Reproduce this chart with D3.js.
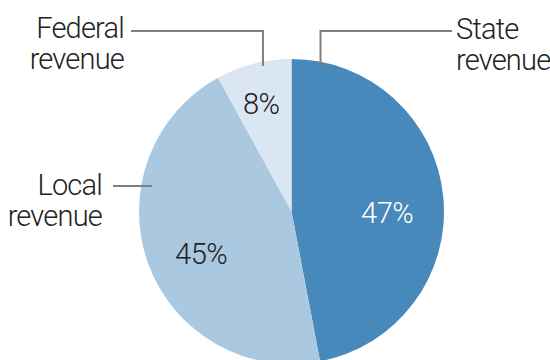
<!DOCTYPE html>
<html>
<head>
<meta charset="utf-8">
<script src="https://cdn.jsdelivr.net/npm/d3@7"></script>
<style>
  html, body { margin: 0; padding: 0; background: #fff; }
  svg { display: block; }
  text { font-family: Roboto, "Liberation Sans", sans-serif; font-weight: 300; }
</style>
</head>
<body>
<svg id="chart" width="550" height="360"></svg>
<script>
// ---- data ----
const categories = ["State revenue", "Local revenue", "Federal revenue"];
const values = [47, 45, 8];
const valueLabels = ["47%", "45%", "8%"];
const nameLines = [["State", "revenue"], ["Local", "revenue"], ["Federal", "revenue"]];

// ---- layout ----
const W = 550, H = 360;
const cx = 291.5, cy = 211.5, R = 152.5;
const colors = d3.scaleOrdinal().domain(categories).range(["#4889bb", "#aac8e0", "#dae6f1"]);
const labelColors = ["#ffffff", "#222222", "#222222"];

const svg = d3.select("#chart");
const g = svg.append("g").attr("transform", `translate(${cx},${cy})`);

const pie = d3.pie().sort(null).value(d => d.value).startAngle(0).endAngle(2 * Math.PI);
const rows = categories.map((c, i) => ({ name: c, value: values[i], label: valueLabels[i], lines: nameLines[i], i }));
const arcs = pie(rows);
const arc = d3.arc().innerRadius(0).outerRadius(R);

g.selectAll("path.slice")
  .data(arcs)
  .enter().append("path")
  .attr("class", "slice")
  .attr("d", arc)
  .attr("fill", d => colors(d.data.name));

// value labels
const bigArc = d3.arc().innerRadius(R * 0.63).outerRadius(R * 0.63);
const smallArc = d3.arc().innerRadius(R * 0.80).outerRadius(R * 0.80);
g.selectAll("text.val")
  .data(arcs)
  .enter().append("text")
  .attr("class", "val")
  .attr("transform", d => {
    const c = (d.data.value < 10 ? smallArc : bigArc).centroid(d);
    return `translate(${c[0]},${c[1] + 10})`;
  })
  .attr("text-anchor", "middle")
  .attr("dy", "0.36em")
  .style("font-size", "29px")
  .style("letter-spacing", "-0.5px")
  .attr("fill", d => labelColors[d.data.i])
  .text(d => d.data.label);

// leader lines + category names (annotation layout)
const pt = (angleDeg, frac) => {
  const a = angleDeg * Math.PI / 180;
  return [cx + Math.sin(a) * R * frac, cy - Math.cos(a) * R * frac];
};
const ann = [
  { // State
    path: (() => { const p = pt(11.35, 0.967); return [p, [p[0], 31], [452, 31]]; })(),
    tx: 456, ty: 39, anchor: "start"
  },
  { // Local
    path: (() => { const p = pt(280.4, 0.93); return [[113, p[1]], p]; })(),
    tx: 102, ty: 195, anchor: "end"
  },
  { // Federal
    path: (() => { const p = pt(348.9, 0.972); return [[131, 31], [p[0], 31], p]; })(),
    tx: 124, ty: 38, anchor: "end"
  }
];

const line = d3.line();
svg.selectAll("path.leader")
  .data(ann)
  .enter().append("path")
  .attr("class", "leader")
  .attr("d", d => line(d.path))
  .attr("fill", "none")
  .attr("stroke", "#808080")
  .attr("stroke-width", 2);

const names = svg.selectAll("text.name")
  .data(arcs)
  .enter().append("text")
  .attr("class", "name")
  .attr("x", d => ann[d.data.i].tx)
  .attr("y", d => ann[d.data.i].ty)
  .attr("text-anchor", d => ann[d.data.i].anchor)
  .attr("fill", "#222")
  .style("font-size", "29px")
  .style("letter-spacing", "-0.8px");

names.selectAll("tspan")
  .data(d => d.data.lines.map(l => ({ l, x: ann[d.data.i].tx })))
  .enter().append("tspan")
  .attr("x", d => d.x)
  .attr("dy", (d, j) => j === 0 ? 0 : 31)
  .text(d => d.l);
</script>
</body>
</html>
